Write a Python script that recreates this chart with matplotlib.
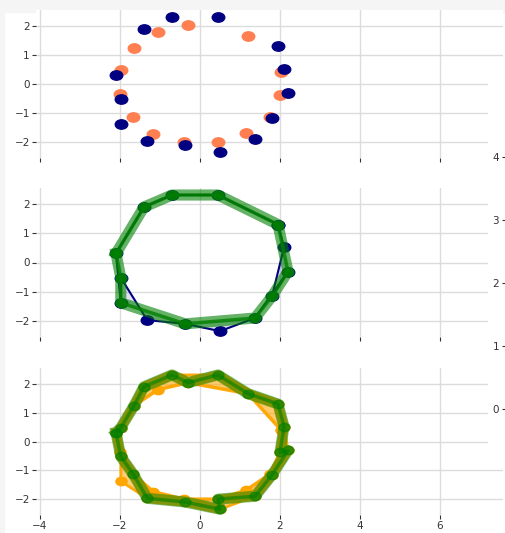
import matplotlib
matplotlib.use("Agg")
import matplotlib.pyplot as plt
import numpy as np
from matplotlib.path import Path
from matplotlib.transforms import Affine2D
from matplotlib.patches import Rectangle

# ---- data -------------------------------------------------------------
# navy points, listed in the order the navy path visits them
navy_x = [1.95, 2.10, 1.80, 2.20, 1.375, 0.50, -0.37, -1.32, -1.98, -1.98, -2.10, -1.40, -0.70, 0.45]
navy_y = [1.30, 0.52, -1.16, -0.31, -1.90, -2.35, -2.10, -1.97, -0.52, -1.38, 0.31, 1.90, 2.31, 2.31]

# coral points, going round the ring
coral_x = [-1.98, -1.65, -1.05, -0.30, 1.20, 2.02, 2.00, 1.75, 1.15, 0.45, -0.40, -1.17, -1.67, -2.00]
coral_y = [0.48, 1.24, 1.80, 2.04, 1.66, 0.41, -0.38, -1.13, -1.69, -2.00, -2.00, -1.74, -1.13, -0.35]

# simplified navy ring (middle panel)
green_mid_x = [-2.10, -1.40, -0.70, 0.45, 1.95, 2.20, 1.80, 1.375, -0.37, -1.98, -1.98]
green_mid_y = [0.31, 1.90, 2.31, 2.31, 1.30, -0.31, -1.16, -1.90, -2.10, -1.38, -0.52]

# merged ring through both point sets (bottom panel)
green_bot_x = [-2.10, -1.98, -1.65, -1.40, -0.70, -0.30, 0.45, 1.20, 1.95, 2.10, 2.00, 2.20,
               1.80, 1.375, 0.45, 0.50, -0.37, -1.32, -1.67, -1.98]
green_bot_y = [0.31, 0.48, 1.24, 1.90, 2.31, 2.04, 2.31, 1.66, 1.30, 0.52, -0.38, -0.31,
               -1.16, -1.90, -2.00, -2.35, -2.10, -1.97, -1.13, -0.52]

# navy ring in angular order (bottom panel band)
ring_x = [-2.10, -1.40, -0.70, 0.45, 1.95, 2.10, 2.20, 1.80, 1.375, 0.50, -0.37, -1.32, -1.98, -1.98]
ring_y = [0.31, 1.90, 2.31, 2.31, 1.30, 0.52, -0.31, -1.16, -1.90, -2.35, -2.10, -1.97, -1.38, -0.52]

x_ticks = [-4, -2, 0, 2, 4, 6]
y_ticks = [-2, -1, 0, 1, 2]
side_ticks = [0, 1, 2, 3, 4]

# ---- figure -----------------------------------------------------------
W, H = 506, 533
fig = plt.figure(figsize=(W / 100, H / 100), dpi=100)
fig.patch.set_facecolor("white")
fig.add_artist(Rectangle((0, 1 - 12 / H), 1, 12 / H, transform=fig.transFigure,
                         color="#f5f5f5", zorder=-5))
fig.add_artist(Rectangle((0, 0), 4 / W, 1, transform=fig.transFigure,
                         color="#f5f5f5", zorder=-5))

ell = Path.unit_circle().transformed(Affine2D().scale(1.0, 0.75))

NAVY = "#000080"
CORAL = "#FF7F50"
ORANGE = "#FFA500"
GREEN = "#008000"
TXT = "#333333"
FS = 7.5


def styled_axes(top_px, bot_px):
    ax = fig.add_axes([36 / W, 1 - bot_px / H, 467 / W, (bot_px - top_px) / H])
    ax.set_facecolor("white")
    for s in ax.spines.values():
        s.set_visible(False)
    ax.grid(True, color="#dcdcdc", lw=1.0)
    ax.set_axisbelow(True)
    ax.tick_params(colors=TXT, labelsize=FS, length=3, width=0.8, pad=1.5)
    ax.set_xlim(-4.1, 7.575)
    ax.set_ylim(-2.55, 2.55)
    ax.set_xticks(x_ticks)
    ax.set_yticks(y_ticks)
    return ax


def closed(xs, ys):
    return np.r_[xs, xs[0]], np.r_[ys, ys[0]]


ax1 = styled_axes(10, 158)
ax2 = styled_axes(188, 337)
ax3 = styled_axes(368, 515)
ax1.tick_params(labelbottom=False)
ax2.tick_params(labelbottom=False)

# top: the two point sets
ax1.plot(coral_x, coral_y, ls="none", marker=ell, ms=9, color=CORAL, mec=CORAL)
ax1.plot(navy_x, navy_y, ls="none", marker=ell, ms=9, color=NAVY, mec=NAVY)

# middle: navy ring, simplified ring and the area between them
nx, ny = closed(navy_x, navy_y)
gx, gy = closed(green_mid_x, green_mid_y)
ax2.fill(np.r_[nx, gx[::-1]], np.r_[ny, gy[::-1]], color=NAVY, alpha=0.12, lw=0)
ax2.plot(nx, ny, color=NAVY, lw=1.5, marker=ell, ms=9)
ax2.plot(gx, gy, color=GREEN, lw=8, alpha=0.6, solid_joinstyle="round")
ax2.plot(gx, gy, color=GREEN, lw=2.5, alpha=0.8, marker=ell, ms=8, mec=GREEN)

# bottom: bands between the rings, merged ring on top
rx, ry = closed(ring_x, ring_y)
cx, cy = closed(coral_x, coral_y)
bx, by = closed(green_bot_x, green_bot_y)
ax3.fill(np.r_[rx, cx[::-1]], np.r_[ry, cy[::-1]], color=ORANGE, alpha=0.3, lw=0)
ax3.fill(np.r_[bx, cx[::-1]], np.r_[by, cy[::-1]], color=ORANGE, alpha=0.4, lw=0)
ax3.fill(np.r_[bx, rx[::-1]], np.r_[by, ry[::-1]], color=ORANGE, alpha=0.35, lw=0)
ax3.plot(rx, ry, color=ORANGE, lw=2, alpha=0.95)
ax3.plot(cx, cy, color=ORANGE, lw=2.5, alpha=0.95)
ax3.plot(bx, by, color=ORANGE, lw=7, alpha=0.9, solid_joinstyle="round")
ax3.plot(np.r_[navy_x, coral_x], np.r_[navy_y, coral_y], ls="none", marker=ell, ms=8,
         color=ORANGE, mec=ORANGE)
ax3.plot(bx, by, color=GREEN, lw=8, alpha=0.5)
ax3.plot(bx, by, color=GREEN, lw=2.5, alpha=0.6, marker=ell, ms=8, mec=GREEN)

# side axis with its own scale
cover = fig.add_axes([488 / W, 1 - 455 / H, 30 / W, 390 / H])
cover.set_facecolor("white")
cover.set_xticks([])
cover.set_yticks([])
for s in cover.spines.values():
    s.set_visible(False)

axr = fig.add_axes([1.0, 1 - 455 / H, 0.3, 390 / H])
axr.patch.set_alpha(0)
for s in axr.spines.values():
    s.set_visible(False)
axr.set_ylim((409 - 455) / 63, 4 + (157 - 65) / 63)
axr.set_yticks(side_ticks)
axr.set_xticks([])
axr.tick_params(axis="y", colors=TXT, labelsize=FS, length=3, width=0.8, pad=2)

fig.savefig("out.png", dpi=100)
